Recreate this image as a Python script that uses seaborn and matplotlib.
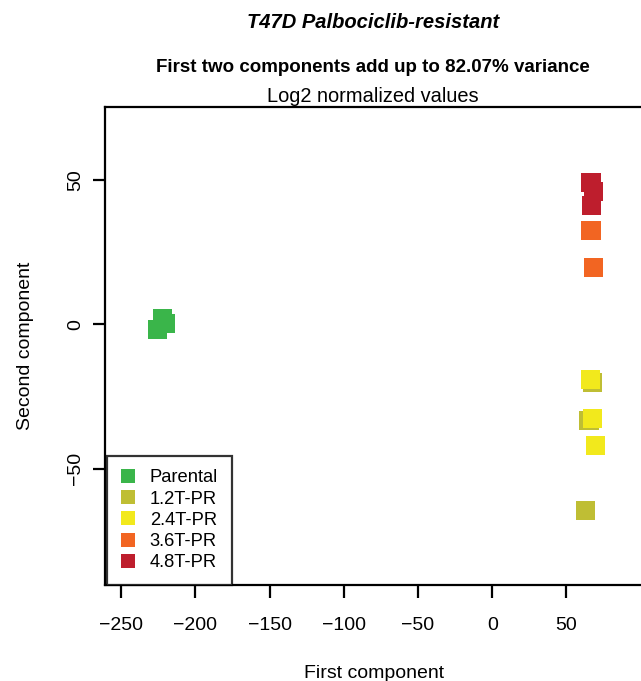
import matplotlib
matplotlib.use("Agg")
import matplotlib.pyplot as plt
import seaborn as sns
import pandas as pd
from matplotlib.lines import Line2D

groups = ["Parental", "1.2T-PR", "2.4T-PR", "3.6T-PR", "4.8T-PR"]
colors = ["#3AB54A", "#BFBE34", "#F2E91C", "#F26522", "#BE1E2D"]

sample_group = (["Parental"] * 3 + ["1.2T-PR"] * 3 + ["2.4T-PR"] * 3
                + ["3.6T-PR"] * 2 + ["4.8T-PR"] * 3)
pc1 = [-222.2, -219.9, -225.7,
       67.8, 65.2, 62.8,
       66.0, 67.3, 69.6,
       66.5, 68.2,
       66.5, 68.2, 66.9]
pc2 = [2.0, 0.3, -1.8,
       -20.0, -33.4, -64.5,
       -19.2, -32.5, -42.0,
       32.4, 19.6,
       49.2, 46.0, 41.0]

df = pd.DataFrame({"First component": pc1, "Second component": pc2,
                   "group": sample_group})

sns.set_style("white")
plt.rcParams["font.family"] = ["Liberation Sans", "DejaVu Sans"]
plt.rcParams["text.color"] = "black"
plt.rcParams["axes.labelcolor"] = "black"
plt.rcParams["xtick.color"] = "black"
plt.rcParams["ytick.color"] = "black"

fig = plt.figure(figsize=(6.41, 6.81), dpi=100)
ax = fig.add_axes([105 / 641, 1 - 585 / 681, (641 - 105) / 641 + 0.003, (585 - 107) / 681])

sns.scatterplot(data=df, x="First component", y="Second component", hue="group",
                hue_order=groups, palette=colors, marker="s", s=190,
                linewidth=0, ax=ax, legend=False)

ax.set_xlim(-260.8, 101.5)
ax.set_ylim(-90.2, 75.2)
ax.set_xticks([-250, -200, -150, -100, -50, 0, 50])
ax.set_yticks([-50, 0, 50])
for s in ax.spines.values():
    s.set_linewidth(1.6)
    s.set_color("black")
ax.tick_params(axis="both", length=9, width=1.6, labelsize=14,
               direction="out", bottom=True, left=True,
               colors="black", labelcolor="black")
ax.tick_params(axis="x", pad=14)
ax.tick_params(axis="y", pad=6)
for lab in ax.get_yticklabels():
    lab.set_rotation(90)
    lab.set_va("center")
ax.set_xlabel("First component", fontsize=14, labelpad=22, color="black")
ax.set_ylabel("Second component", fontsize=14, labelpad=24, color="black")

handles = [Line2D([], [], marker="s", linestyle="", markersize=9.5,
                  markerfacecolor=c, markeredgewidth=0) for c in colors]
leg = ax.legend(handles, groups, loc="lower left", bbox_to_anchor=(0.003, 0.0),
                borderaxespad=0, fontsize=13.2, frameon=True, fancybox=False,
                handletextpad=0.8, labelspacing=0.23, borderpad=0.75,
                handlelength=0.8)
leg.get_frame().set_edgecolor("black")
leg.get_frame().set_linewidth(1.6)
for t in leg.get_texts():
    t.set_color("black")

cx = (105 + 641) / 2 / 641
fig.text(cx, 1 - 22 / 681, "T47D Palbociclib-resistant", ha="center", va="center",
         fontsize=14.5, fontweight="bold", fontstyle="italic", color="black")
fig.text(cx, 1 - 68 / 681, "First two components add up to 82.07% variance",
         ha="center", va="center", fontsize=13.5, fontweight="bold", color="black")
fig.text(cx, 1 - 96 / 681, "Log2 normalized values", ha="center", va="center",
         fontsize=14.4, color="black")

fig.savefig("out.png", dpi=100)
